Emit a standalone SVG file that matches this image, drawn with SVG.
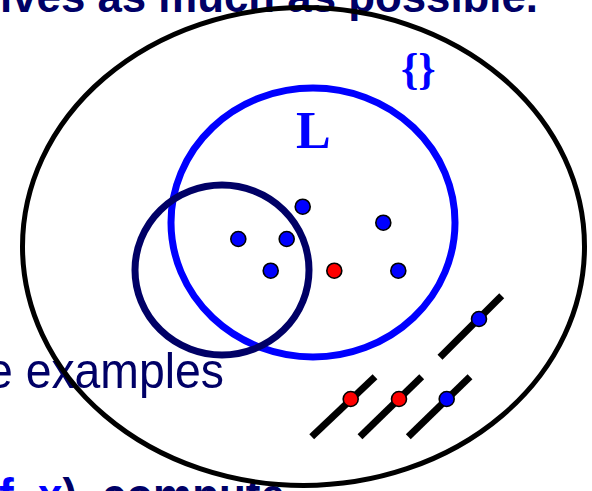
<svg xmlns="http://www.w3.org/2000/svg" width="592" height="491" viewBox="0 0 592 491">
<style>
.txt{font-family:"Liberation Sans",Arial,sans-serif;fill:#000066}
.dot{stroke:#000;stroke-width:1.6}
.b{fill:#0000FF}
.r{fill:#FF0000}
.seg{stroke:#000;stroke-width:7;stroke-linecap:butt}
</style>
<rect width="592" height="491" fill="#fff"/>
<g id="texts">
<text class="txt" x="0" y="12" font-size="44" font-weight="bold" textLength="538" lengthAdjust="spacingAndGlyphs">ives as much as possible.</text>
<text class="txt" x="-13" y="388" font-size="50" textLength="237" lengthAdjust="spacingAndGlyphs">e examples</text>
<text class="txt" transform="translate(0,513) scale(1,1.15)" x="-1" y="0" font-size="44" font-weight="bold"><tspan fill="#0000FF">f</tspan>, <tspan fill="#0000FF">x</tspan>), compute</text>
</g>
<g id="universe">
<ellipse cx="303.5" cy="246.5" rx="281" ry="239" fill="none" stroke="#000" stroke-width="5"/>
<text x="401" y="84" font-family="'Liberation Serif','Times New Roman',serif" font-size="44" font-weight="bold" fill="#0000FF">{}</text>
</g>
<g id="setL">
<ellipse cx="313" cy="222.5" rx="142" ry="134.5" fill="none" stroke="#0000FF" stroke-width="7"/>
<text x="296" y="148" font-family="'Liberation Serif','Times New Roman',serif" font-size="52" font-weight="bold" fill="#0000FF">L</text>
</g>
<g id="hypothesis">
<ellipse cx="222" cy="270" rx="87" ry="85" fill="none" stroke="#000066" stroke-width="7"/>
</g>
<g id="points">
<circle class="dot b" cx="302.7" cy="206.7" r="7.5"/>
<circle class="dot b" cx="383.3" cy="222.7" r="7.5"/>
<circle class="dot b" cx="238.3" cy="239" r="7.5"/>
<circle class="dot b" cx="286.7" cy="239" r="7.5"/>
<circle class="dot b" cx="270.7" cy="270.7" r="7.5"/>
<circle class="dot r" cx="334.3" cy="270.7" r="7.5"/>
<circle class="dot b" cx="398.3" cy="270.7" r="7.5"/>
</g>
<g id="connectors">
<line class="seg" x1="440" y1="357.3" x2="501.7" y2="295.7"/>
<line class="seg" x1="311.7" y1="436.7" x2="375" y2="376.7"/>
<line class="seg" x1="360" y1="436.7" x2="421.7" y2="376.7"/>
<line class="seg" x1="408.3" y1="436.7" x2="470" y2="376.7"/>
</g>
<g id="segment-points">
<circle class="dot b" cx="479" cy="319" r="7.5"/>
<circle class="dot r" cx="350.7" cy="399" r="7.5"/>
<circle class="dot r" cx="399" cy="399" r="7.5"/>
<circle class="dot b" cx="446.7" cy="399" r="7.5"/>
</g>
</svg>
